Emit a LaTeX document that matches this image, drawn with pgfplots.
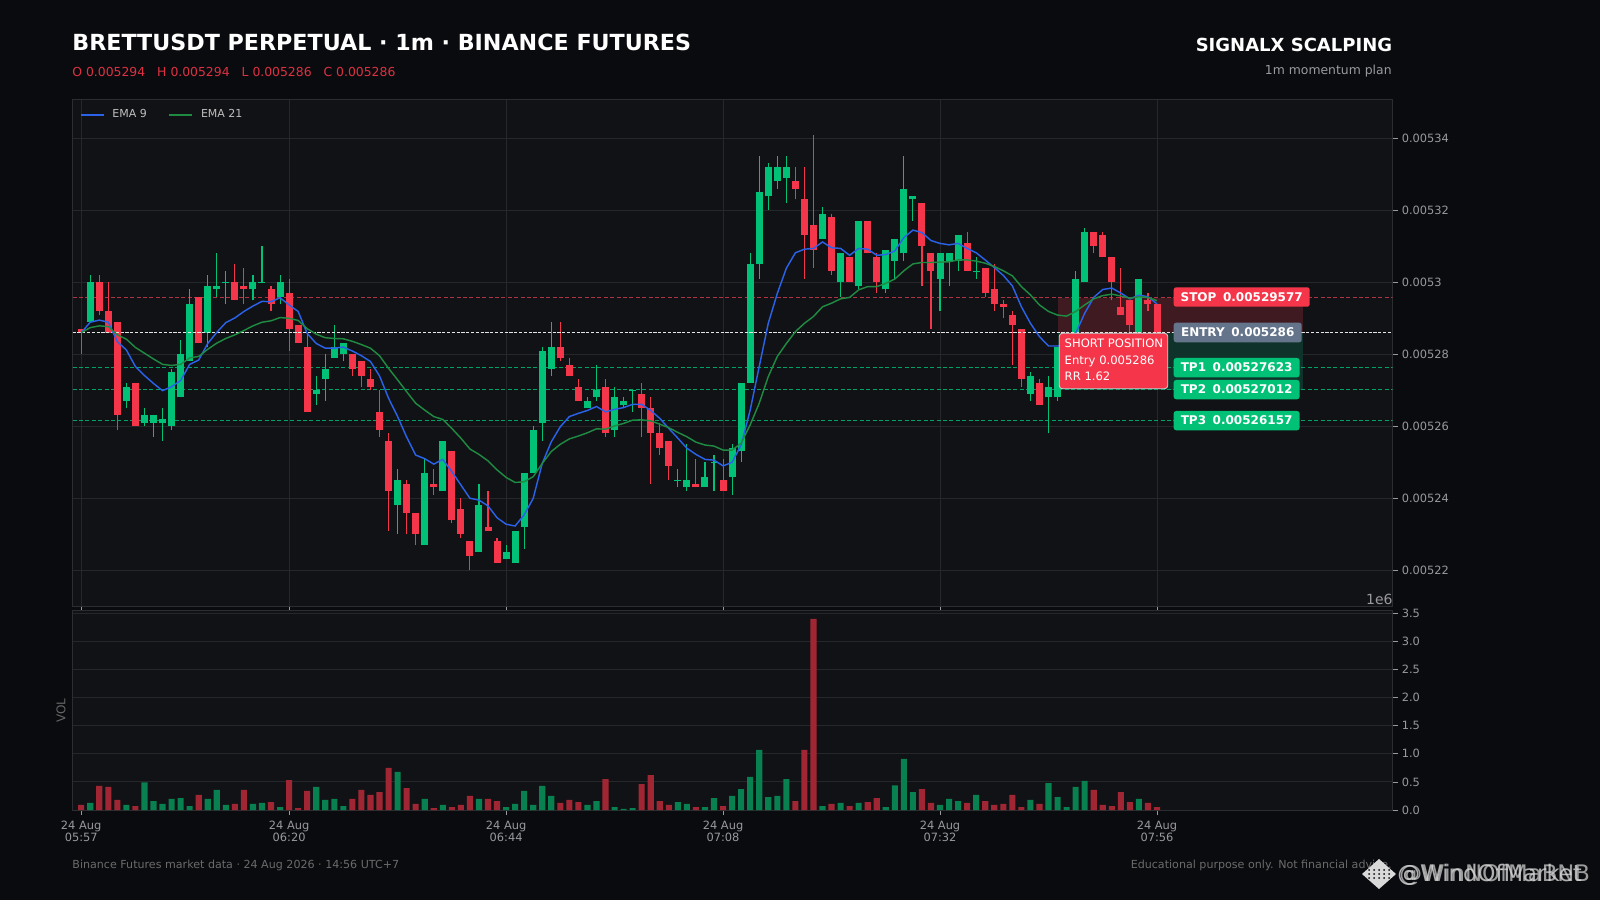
\documentclass[border=0pt]{standalone}
\usepackage{fontspec}
\setmainfont{DejaVu Sans}
\usepackage{pgfplots}
\usepackage{pgfplotstable}
\pgfplotsset{compat=1.18}
\definecolor{figbg}{HTML}{0A0B0E}
\definecolor{panelbg}{HTML}{111215}
\definecolor{gridc}{HTML}{26272B}
\definecolor{spinec}{HTML}{2C2D31}
\definecolor{tickc}{HTML}{9A9A9E}
\definecolor{upc}{HTML}{00C176}
\definecolor{dnc}{HTML}{F5364A}
\definecolor{upv}{HTML}{08804F}
\definecolor{dnv}{HTML}{A02633}
\definecolor{emab}{HTML}{2A62EA}
\definecolor{emag}{HTML}{1F8A42}
\definecolor{entryc}{HTML}{64748B}
\definecolor{redband}{HTML}{3F1A20}
\definecolor{greenband}{HTML}{0F332A}
\definecolor{stopl}{HTML}{B03344}
\definecolor{tpl}{HTML}{00A266}
% Prices are in units of 1e-6 USDT (5286 = 0.005286); volumes in units of 1e6.
% rising candles: i open high low close volume
\pgfplotstableread{
i o h l c v
1 5289 5302 5289 5300 0.125
5 5267 5272 5265 5271 0.09
7 5261 5265 5260 5263 0.49
8 5261 5263 5257 5263 0.16
9 5261 5265 5256 5262 0.11
10 5260 5276 5259 5275 0.20
11 5268 5284 5268 5280 0.21
12 5278 5298 5278 5294 0.07
14 5286 5302 5282 5299 0.20
15 5298 5308 5296 5299 0.36
16 5299.8 5303 5294 5300.2 0.09
19 5298 5302 5295 5300 0.11
20 5299.8 5310 5299.8 5300.2 0.125
22 5296 5302 5294 5300 0.05
26 5269 5274 5266 5270 0.41
27 5273 5280 5267 5276 0.18
28 5279 5288 5279 5282 0.20
29 5280 5283 5278 5283 0.07
35 5238 5248 5230 5245 0.68
38 5227 5251 5227 5247 0.20
40 5242 5256 5242 5256 0.09
44 5225 5244 5225 5238 0.20
47 5223 5227 5223 5225 0.05
48 5222 5231 5222 5231 0.11
49 5232 5247 5226 5247 0.34
50 5247 5260 5247 5259 0.09
51 5261 5282 5256 5281 0.43
52 5276 5289 5274 5282 0.25
56 5265 5268 5265 5267 0.09
57 5268 5277 5267 5270 0.16
59 5259 5271 5257 5268 0.05
60 5266 5268 5265 5267 0.02
61 5269.8 5270.2 5264 5270.2 0.035
66 5244.8 5248 5243 5245.2 0.14
67 5243 5255 5242 5245 0.11
69 5243 5250 5243 5246 0.05
70 5249.8 5252 5242 5250.2 0.21
72 5246 5255 5241 5254 0.25
73 5253 5272 5250 5272 0.37
74 5272 5308 5272 5305 0.59
75 5305 5335 5301 5325 1.07
76 5324 5333 5320 5332 0.23
77 5328 5335 5326 5332 0.25
78 5329 5335 5322 5332 0.55
82 5312 5321 5312 5319 0.07
84 5300 5308 5296 5308 0.125
86 5299 5317 5298 5317 0.125
89 5298 5309 5297 5309 0.05
90 5306 5312 5301 5312 0.44
91 5308 5335 5306 5326 0.91
92 5323 5324 5317 5324 0.32
95 5301 5308 5292 5308 0.09
96 5306 5308 5299 5308 0.20
97 5306 5313 5303 5313 0.16
99 5302.8 5307 5301 5303.2 0.27
105 5269 5275 5267 5274 0.18
107 5268 5274 5258 5271 0.48
108 5268 5282 5267 5282 0.23
109 5276 5284 5275 5283 0.05
110 5282 5303 5282 5301 0.41
111 5300 5315 5300 5314 0.52
117 5286 5301 5286 5301 0.20
}\upT
% falling candles
\pgfplotstableread{
i o h l c v
0 5287 5287 5280 5286 0.09
2 5300 5302 5291 5292 0.43
3 5292 5300 5286 5286 0.41
4 5289 5289 5259 5263 0.18
6 5272 5272 5260 5260 0.07
13 5296 5296 5283 5283 0.27
17 5300 5305 5295 5295 0.11
18 5299 5304 5294 5298 0.36
21 5298 5299 5292 5294 0.14
23 5297 5301 5281 5287 0.53
24 5288 5288 5283 5283 0.035
25 5282 5286 5264 5264 0.34
30 5280 5280 5274 5276 0.20
31 5278 5278 5271 5274 0.36
32 5273 5276 5270 5271 0.27
33 5264 5270 5257 5259 0.32
34 5256 5258 5231 5242 0.75
36 5244 5245 5230 5236 0.39
37 5236 5236 5227 5230 0.11
39 5244 5248 5241 5243 0.035
41 5253 5253 5233 5234 0.05
42 5237 5240 5229 5230 0.09
43 5228 5228 5220 5224 0.25
45 5232 5242 5231 5231 0.20
46 5228 5229 5222 5222 0.16
53 5282 5289 5278 5279 0.125
54 5277 5279 5274 5274 0.18
55 5271 5273 5267 5267 0.14
58 5271 5273 5257 5258 0.55
62 5269 5272 5257 5265 0.46
63 5265 5268 5244 5258 0.62
64 5258 5261 5252 5254 0.16
65 5256 5256 5245 5249 0.09
68 5244 5251 5243 5243 0.05
71 5245 5251 5242 5242 0.07
79 5328 5332 5323 5326 0.16
80 5323 5332 5301 5313 1.07
81 5316 5341 5304 5309 3.40
83 5318 5319 5302 5303 0.11
85 5307 5307 5300 5300 0.07
87 5317 5317 5308 5308 0.14
88 5307 5308 5297 5300 0.21
93 5322 5322 5299 5310 0.37
94 5308 5308 5287 5303 0.125
98 5311 5314 5303 5303 0.125
100 5304 5304 5296 5297 0.16
101 5298 5305 5292 5294 0.09
102 5294 5295 5290 5293 0.11
103 5291 5292 5277 5288 0.27
104 5287 5287 5271 5273 0.05
106 5272 5273 5266 5266 0.11
112 5314 5314 5308 5310 0.36
113 5313 5314 5307 5307 0.09
114 5307 5307 5295 5300 0.07
115 5293 5304 5291 5291 0.32
116 5295 5295 5285 5288 0.14
118 5295 5297 5292 5294 0.125
119 5294 5294 5286 5286 0.05
}\dnT
% moving averages
\pgfplotstableread{
i e9 e21
0 5286 5286
1 5288.9 5287.4
2 5289.5 5287.9
3 5288.9 5287.7
4 5283.5 5285.4
5 5281.2 5284.2
6 5276.6 5281.9
7 5274.1 5280.3
8 5271.9 5278.7
9 5269.9 5277.2
10 5271 5276.9
11 5272.7 5277.2
12 5277.2 5279
13 5278.4 5279.4
14 5283 5281.4
15 5286.1 5283.1
16 5288.8 5284.4
17 5290.1 5285.4
18 5291.9 5286.6
19 5293.4 5287.9
20 5294.7 5288.9
21 5294.6 5289.3
22 5295.7 5290.2
23 5293.7 5290
24 5291.9 5289.4
25 5285.8 5287.1
26 5283 5285.6
27 5281.7 5284.6
28 5281.7 5284.4
29 5282 5284.3
30 5280.9 5283.6
31 5279.6 5282.7
32 5278 5281.7
33 5274 5279.6
34 5267.8 5276.1
35 5262.7 5272.9
36 5257 5269.6
37 5252 5266.4
38 5251 5264.5
39 5249.5 5262.7
40 5250.8 5261.9
41 5247.4 5259.4
42 5243.7 5256.7
43 5240 5253.7
44 5239.5 5252.2
45 5237.9 5250.4
46 5234.6 5247.9
47 5232.8 5245.8
48 5232.3 5244.4
49 5235.4 5244.6
50 5240 5246
51 5249.7 5249.7
52 5255.7 5253
53 5259.9 5255
54 5262.7 5256.5
55 5263.6 5257.3
56 5264.4 5258.2
57 5265.5 5259.3
58 5264 5259.2
59 5264.7 5260.1
60 5265.2 5260.8
61 5266.1 5261.7
62 5266.1 5261.8
63 5264.4 5261.5
64 5262.2 5260.6
65 5259.4 5259.6
66 5256.7 5258.3
67 5253.9 5257.1
68 5252.2 5255.6
69 5250.8 5254.8
70 5250.6 5254.5
71 5249 5253.4
72 5250 5253.4
73 5254.8 5255.3
74 5264.5 5260.4
75 5276.6 5266.4
76 5288.6 5273.8
77 5296.9 5279.4
78 5303.9 5283
79 5308.2 5286.3
80 5309.2 5288.6
81 5309.4 5290.5
82 5311.2 5293.2
83 5309.6 5294.2
84 5309.4 5295.4
85 5307.5 5295.8
86 5309.4 5297.9
87 5309.2 5298.8
88 5307.5 5298.8
89 5307.7 5299.7
90 5308.7 5300.9
91 5312.4 5303.2
92 5314.5 5305.1
93 5313.8 5305.5
94 5311.6 5305.5
95 5310.8 5305.6
96 5310.4 5305.7
97 5310.8 5306.2
98 5309.4 5306.2
99 5308.2 5305.9
100 5306.2 5305.3
101 5304.1 5304.4
102 5301.9 5303.2
103 5299 5301.8
104 5293.2 5298.8
105 5288.6 5296.5
106 5284.9 5293.7
107 5282.3 5291.9
108 5282.3 5290.9
109 5282.5 5290.6
110 5285.8 5291.9
111 5291.4 5293.7
112 5295.8 5295.4
113 5298 5296.3
114 5298.4 5296.7
115 5297 5296.2
116 5295.4 5295.6
117 5296.4 5296
118 5296 5295.8
119 5294 5294.9
}\emaT
\pgfplotsset{panel/.style={
  scale only axis, width=660pt, xmin=-0.96, xmax=145.05,
  axis background/.style={fill=panelbg},
  axis line style={draw=spinec, line width=0.5pt},
  grid style={draw=gridc, line width=0.5pt},
  major tick length=2.6pt, tick align=outside,
  major tick style={draw=tickc, line width=0.4pt},
  xtick={0,23,47,71,95,119},
  xtick pos=lower, ytick pos=right, yticklabel pos=right,
  tick label style={font=\fontsize{5.7}{5.6}\selectfont, text=tickc},
  yticklabel style={xshift=-1.5pt},
  clip=true,
}}
\begin{document}
\begin{tikzpicture}
\path[use as bounding box, fill=figbg] (0,0) rectangle (800pt,450pt);
% price panel
\begin{axis}[panel, name=main, at={(36.25pt,146.85pt)}, anchor=south west, height=253.5pt,
  ymin=5210, ymax=5350.83,
  ytick={5220,5240,5260,5280,5300,5320,5340},
  yticklabels={0.00522,0.00524,0.00526,0.00528,0.0053,0.00532,0.00534},
  xticklabels={},
  grid=major, 
  legend columns=2,
  legend style={at={(0,1)}, anchor=north west, draw=none, fill=none, text=white!75!black,
    font=\fontsize{5.5}{6}\selectfont, inner xsep=3.5pt, inner ysep=3pt,
    /tikz/every even column/.style={column sep=8.75pt}},
  legend image code/.code={\draw[#1,line width=0.85pt] (0pt,0pt) -- (11.5pt,0pt); \path (13.5pt,0pt);},
]
% position zone
\addplot[fill=redband, draw=none, forget plot] coordinates {(108,5286) (135.1,5286) (135.1,5295.77) (108,5295.77)} --cycle;
\addplot[fill=greenband, draw=none, forget plot] coordinates {(108,5270.12) (135.1,5270.12) (135.1,5286) (108,5286)} --cycle;
% level lines
\addplot[stopl, line width=0.5pt, dash pattern=on 2pt off 1.2pt, forget plot] coordinates {(-0.96,5295.77) (145.05,5295.77)};
\addplot[tpl, line width=0.5pt, dash pattern=on 2pt off 1.2pt, forget plot] coordinates {(-0.96,5276.23) (145.05,5276.23)};
\addplot[tpl, line width=0.5pt, dash pattern=on 2pt off 1.2pt, forget plot] coordinates {(-0.96,5270.12) (145.05,5270.12)};
\addplot[tpl, line width=0.5pt, dash pattern=on 2pt off 1.2pt, forget plot] coordinates {(-0.96,5261.57) (145.05,5261.57)};
% wicks
\addplot[upc, line width=0.55pt, mark=none, forget plot, quiver={u=0, v=\thisrow{h}-\thisrow{l}}] table[x=i,y=l] {\upT};
\addplot[dnc, line width=0.55pt, mark=none, forget plot, quiver={u=0, v=\thisrow{h}-\thisrow{l}}] table[x=i,y=l] {\dnT};
% bodies
\addplot[upc, line width=3.5pt, mark=none, forget plot, quiver={u=0, v=\thisrow{c}-\thisrow{o}}] table[x=i,y=o] {\upT};
\addplot[dnc, line width=3.5pt, mark=none, forget plot, quiver={u=0, v=\thisrow{c}-\thisrow{o}}] table[x=i,y=o] {\dnT};
% entry
\addplot[white!90!black, line width=0.6pt, dash pattern=on 1.6pt off 0.8pt, forget plot] coordinates {(-0.96,5286) (145.05,5286)};
% moving averages
\addplot[emab, line width=0.72pt, mark=none] table[x=i,y=e9] {\emaT};
\addlegendentry{EMA 9}
\addplot[emag, line width=0.72pt, mark=none] table[x=i,y=e21] {\emaT};
\addlegendentry{EMA 21}
\end{axis}
% volume panel
\begin{axis}[panel, name=vol, at={(36.25pt,45pt)}, anchor=south west, height=99.65pt,
  ymin=0, ymax=3.547,
  ytick={0,0.5,1,1.5,2,2.5,3,3.5},
  yticklabels={0.0,0.5,1.0,1.5,2.0,2.5,3.0,3.5},
  ymajorgrids,
  xticklabels={{24 Aug\\05:57},{24 Aug\\06:20},{24 Aug\\06:44},{24 Aug\\07:08},{24 Aug\\07:32},{24 Aug\\07:56}},
  xticklabel style={align=center, yshift=0.4pt},
]
\addplot[ybar, bar width=3.05pt, bar shift=0pt, fill=upv, draw=none] table[x=i,y=v] {\upT};
\addplot[ybar, bar width=3.05pt, bar shift=0pt, fill=dnv, draw=none] table[x=i,y=v] {\dnT};
\end{axis}
% everything below is placed in reference pixels
\begin{scope}[x=0.5pt, y=-0.5pt, shift={(0pt,450pt)}]
\node[anchor=base west, inner sep=0pt, text=white, font=\fontsize{11.1}{13}\selectfont\bfseries] at (72,51) {BRETTUSDT PERPETUAL · 1m · BINANCE FUTURES};
\node[anchor=base west, inner sep=0pt, text=dnc!90!black, font=\fontsize{6.2}{7}\selectfont] at (72,77) {O 0.005294\hspace{6pt}H 0.005294\hspace{6pt}L 0.005286\hspace{6pt}C 0.005286};
\node[anchor=base east, inner sep=0pt, text=white, font=\fontsize{9}{11}\selectfont\bfseries] at (1392.5,52) {SIGNALX SCALPING};
\node[anchor=base east, inner sep=0pt, text=tickc, font=\fontsize{6.2}{7}\selectfont] at (1392,75) {1m momentum plan};
\node[anchor=base east, inner sep=0pt, text=tickc, font=\fontsize{7}{8}\selectfont] at (1393,605) {1e6};
\node[rotate=90, inner sep=0pt, text=white!40!black, font=\fontsize{6}{7}\selectfont] at (61,710.5) {VOL};
\node[anchor=base west, inner sep=0pt, text=white!42!black, font=\fontsize{5.55}{6}\selectfont] at (72,868) {Binance Futures market data · 24 Aug 2026 · 14:56 UTC+7};
\node[anchor=base east, inner sep=0pt, text=white!42!black, font=\fontsize{5.55}{6}\selectfont] at (1392,868) {Educational purpose only. Not financial advice.};
% level labels
\fill[dnc, rounded corners=1.2pt] (1173.7,287.3) rectangle (1309.7,306.7);
\node[text=white, font=\fontsize{6}{7}\selectfont\bfseries] at (1241.7,297) {STOP\hspace{3.3pt}0.00529577};
\fill[entryc, rounded corners=1.2pt] (1173.7,322.7) rectangle (1301.7,342.3);
\node[text=white, font=\fontsize{6}{7}\selectfont\bfseries] at (1237.7,332.5) {ENTRY\hspace{3.3pt}0.005286};
\fill[upc, rounded corners=1.2pt] (1173.7,358) rectangle (1299.5,377.3);
\node[text=white, font=\fontsize{6}{7}\selectfont\bfseries] at (1236.6,367.6) {TP1\hspace{3.3pt}0.00527623};
\fill[upc, rounded corners=1.2pt] (1173.7,380) rectangle (1299.5,399.3);
\node[text=white, font=\fontsize{6}{7}\selectfont\bfseries] at (1236.6,389.6) {TP2\hspace{3.3pt}0.00527012};
\fill[upc, rounded corners=1.2pt] (1173.7,411) rectangle (1299.5,430.3);
\node[text=white, font=\fontsize{6}{7}\selectfont\bfseries] at (1236.6,420.6) {TP3\hspace{3.3pt}0.00526157};
% position callout
\filldraw[fill=dnc, draw=white!85!black, line width=0.4pt, rounded corners=1.5pt] (1059.3,333.3) rectangle (1167.7,388.7);
\node[anchor=base west, inner sep=0pt, text=white, font=\fontsize{5.8}{7}\selectfont] at (1064.3,348) {SHORT POSITION};
\node[anchor=base west, inner sep=0pt, text=white, font=\fontsize{5.8}{7}\selectfont] at (1064.3,365) {Entry 0.005286};
\node[anchor=base west, inner sep=0pt, text=white, font=\fontsize{5.8}{7}\selectfont] at (1064.3,381) {RR 1.62};
% watermark
\fill[white!85!black] (1379,859) -- (1396,874) -- (1379,889) -- (1362,874) -- cycle;
\foreach \a in {-2,-1,0,1,2}{\foreach \b in {-1,0,1}{\fill[figbg] (1379+\a*5,874+\b*4) circle[radius=1];}}
\node[anchor=base west, inner sep=0pt, text=white!85!black, opacity=0.8, font=\fontsize{11.4}{13}\selectfont] at (1397,881) {@WindOfMarket};
\node[anchor=base west, inner sep=0pt, text=white!85!black, opacity=0.7, font=\fontsize{11.4}{13}\selectfont] at (1399,881) {@WinNOfMaBNB};
\end{scope}
\end{tikzpicture}
\end{document}
